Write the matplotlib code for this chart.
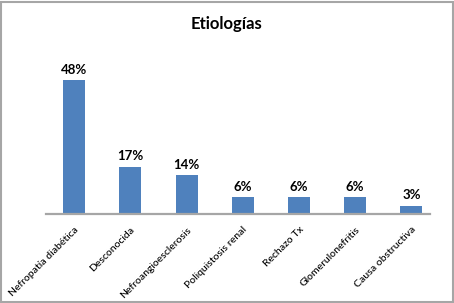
import matplotlib.pyplot as plt
from matplotlib.patches import Rectangle

# Data
causas = ['Nefropatía diabética', 'Desconocida', 'Nefroangioesclerosis',
          'Poliquistosis renal', 'Rechazo Tx', 'Glomerulonefritis', 'Causa obstructiva']
porcentajes = [48, 17, 14, 6, 6, 6, 3]

plt.rcParams['font.family'] = ['Lato', 'DejaVu Sans']

fig = plt.figure(figsize=(4.54, 3.03), dpi=100)
ax = fig.add_axes([46 / 454, 1 - 214 / 303, (430 - 46) / 454, (214 - 74.5) / 303])

x = list(range(len(causas)))
bars = ax.bar(x, porcentajes, width=0.39, color='#4f81bd', zorder=2)

ax.set_xlim(-0.5, 6.33)
ax.set_ylim(0, 50)

for spine in ['top', 'right', 'left']:
    ax.spines[spine].set_visible(False)
ax.spines['bottom'].set_color('#a6a6a6')
ax.spines['bottom'].set_linewidth(1.6)
ax.set_yticks([])
ax.set_xticks(x)
ax.set_xticklabels(causas, rotation=45, ha='right', rotation_mode='anchor',
                   fontsize=7.5, fontweight='medium')
ax.tick_params(axis='x', length=0, pad=8)

# Etiquetas sobre las barras
for bar, val in zip(bars, porcentajes):
    ax.text(bar.get_x() + bar.get_width() / 2, bar.get_height() + 1.5, f'{val}%',
            ha='center', va='bottom', fontsize=9.5, fontweight='bold', clip_on=False)

fig.text(0.5, 1 - 24 / 303, 'Etiologías', ha='center', va='center',
         fontsize=12, fontweight='bold')

# Marco gris alrededor del gráfico
fig.patches.append(Rectangle((0.002, 0.003), 0.996, 0.992, transform=fig.transFigure,
                             fill=False, edgecolor='#a6a6a6', linewidth=1.5))

fig.savefig('out.png', dpi=100)
